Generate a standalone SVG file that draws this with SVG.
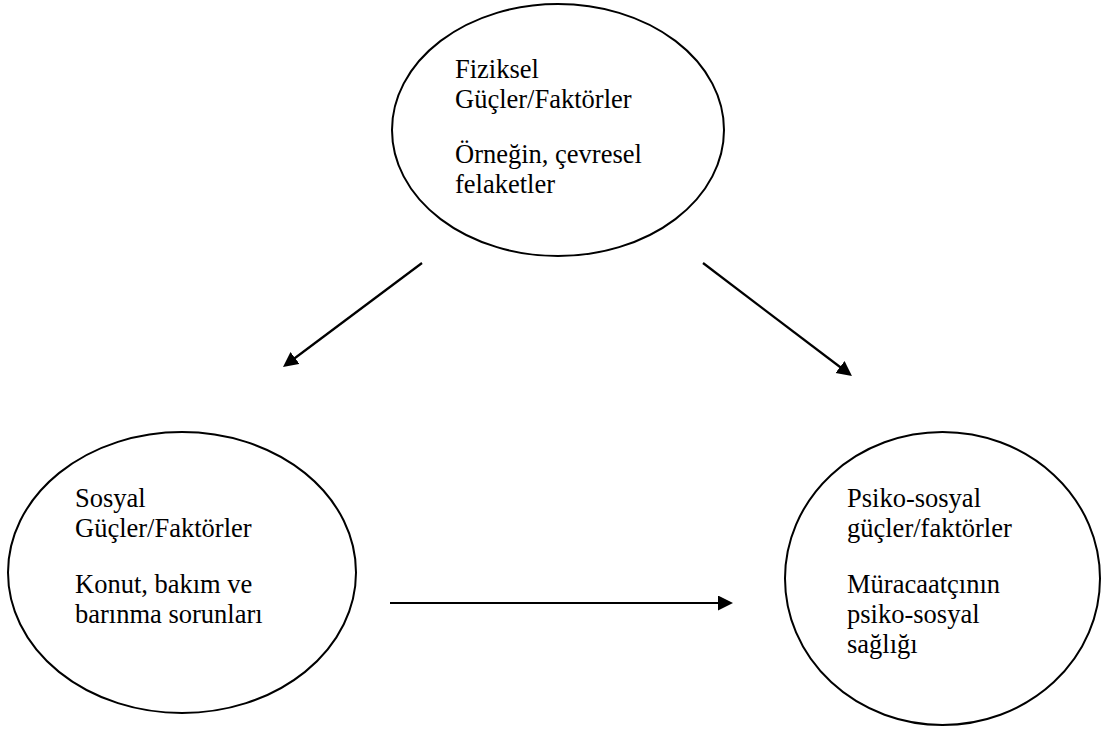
<svg xmlns="http://www.w3.org/2000/svg" width="1101" height="729" viewBox="0 0 1101 729">
<style>
.node ellipse{fill:none;stroke:#000;stroke-width:2}
.node text{font-family:"Liberation Serif","Times New Roman",serif;font-size:26.5px;fill:#000}
.conn line{stroke:#000;stroke-width:2.2}
</style>
<defs>
<marker id="ah" markerUnits="userSpaceOnUse" markerWidth="16" markerHeight="16" refX="5" refY="7.5" orient="auto">
<path d="M0,0 L15,7.5 L0,15 z" fill="#000"/>
</marker>
</defs>
<rect width="1101" height="729" fill="#fff"/>
<g id="node-fiziksel" class="node">
<ellipse cx="558" cy="130" rx="166" ry="126"/>
<text x="455" y="78">Fiziksel</text>
<text x="455" y="108">Güçler/Faktörler</text>
<text x="455" y="163">Örneğin, çevresel</text>
<text x="455" y="193">felaketler</text>
</g>
<g id="node-sosyal" class="node">
<ellipse cx="182" cy="572.5" rx="174" ry="140.5"/>
<text x="75" y="507">Sosyal</text>
<text x="75" y="537">Güçler/Faktörler</text>
<text x="75" y="593">Konut, bakım ve</text>
<text x="75" y="623">barınma sorunları</text>
</g>
<g id="node-psikososyal" class="node">
<ellipse cx="942.5" cy="578.5" rx="157.5" ry="146.5"/>
<text x="847" y="507">Psiko-sosyal</text>
<text x="847" y="537">güçler/faktörler</text>
<text x="847" y="593">Müracaatçının</text>
<text x="847" y="623">psiko-sosyal</text>
<text x="847" y="653">sağlığı</text>
</g>
<g id="connectors" class="conn">
<line x1="422" y1="263" x2="291" y2="361" marker-end="url(#ah)"/>
<line x1="703" y1="263" x2="844" y2="370" marker-end="url(#ah)"/>
<line x1="390" y1="603" x2="723" y2="603" marker-end="url(#ah)"/>
</g>
</svg>
